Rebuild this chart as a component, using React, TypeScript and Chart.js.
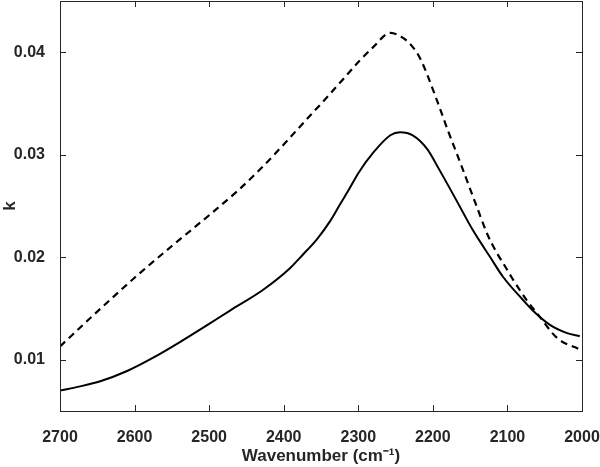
import { useEffect, useRef } from "react";
import { Chart, ChartConfiguration, Plugin } from "chart.js/auto";

// wavenumber (cm-1) and extinction coefficient k
const solidWavenumber = [2700, 2673, 2646, 2610, 2575, 2542, 2500, 2472, 2428, 2392, 2375, 2355, 2338, 2325, 2311, 2300, 2280, 2257, 2244, 2227, 2208, 2191, 2168, 2146, 2123, 2106, 2080, 2066, 2043, 2020, 2003];
const solidK = [0.0070, 0.0074, 0.0079, 0.0089, 0.0102, 0.0116, 0.0135, 0.0148, 0.0168, 0.0189, 0.0202, 0.0218, 0.0235, 0.0251, 0.0268, 0.0282, 0.0302, 0.0319, 0.0322, 0.0319, 0.0306, 0.0285, 0.0255, 0.0226, 0.0200, 0.0181, 0.0159, 0.0148, 0.0134, 0.0126, 0.0123];

const dashedWavenumber = [2700, 2650, 2600, 2550, 2500, 2463, 2430, 2400, 2370, 2342, 2320, 2298, 2280, 2257, 2240, 2228, 2217, 2197, 2180, 2161, 2143, 2126, 2114, 2103, 2094, 2074, 2060, 2033, 2003];
const dashedK = [0.0113, 0.0147, 0.0180, 0.0211, 0.0241, 0.0264, 0.0287, 0.0310, 0.0334, 0.0356, 0.0374, 0.0392, 0.0405, 0.0419, 0.0414, 0.0406, 0.0394, 0.0358, 0.0324, 0.0288, 0.0253, 0.0221, 0.0204, 0.0191, 0.0180, 0.0158, 0.0145, 0.0121, 0.0110];

const xTicks = [2700, 2600, 2500, 2400, 2300, 2200, 2100, 2000];
const yTicks = [0.01, 0.02, 0.03, 0.04];

const axisColor = "#262626";
const fontFamily = "'Liberation Sans', Arial, Helvetica, sans-serif";

// MATLAB-like box with inward ticks on all four sides
const boxAxes: Plugin = {
  id: "boxAxes",
  afterDatasetsDraw(chart) {
    const { ctx, chartArea: a, scales } = chart;
    const len = 6;
    ctx.save();
    ctx.strokeStyle = axisColor;
    ctx.lineWidth = 1;
    ctx.beginPath();
    for (const v of xTicks) {
      const px = Math.round(scales.x.getPixelForValue(v)) + 0.5;
      ctx.moveTo(px, a.bottom);
      ctx.lineTo(px, a.bottom - len);
      ctx.moveTo(px, a.top);
      ctx.lineTo(px, a.top + len);
    }
    for (const v of yTicks) {
      const py = Math.round(scales.y.getPixelForValue(v)) + 0.5;
      ctx.moveTo(a.left, py);
      ctx.lineTo(a.left + len, py);
      ctx.moveTo(a.right, py);
      ctx.lineTo(a.right - len, py);
    }
    ctx.stroke();
    ctx.strokeRect(a.left + 0.5, a.top + 0.5, a.right - a.left, a.bottom - a.top);
    ctx.restore();
  },
};

export default function App() {
  const canvasRef = useRef<HTMLCanvasElement>(null);
  const chartRef = useRef<Chart | null>(null);

  useEffect(() => {
    document.body.style.margin = "0";
    if (!canvasRef.current) return;
    if (chartRef.current) chartRef.current.destroy();

    const tickFont = { family: fontFamily, size: 16, weight: "bold" as const };
    const titleFont = { family: fontFamily, size: 17, weight: "bold" as const };

    const config: ChartConfiguration<"line"> = {
      type: "line",
      data: {
        datasets: [
          {
            label: "solid",
            data: solidWavenumber.map((x, i) => ({ x, y: solidK[i] })),
            borderColor: "#000",
            borderWidth: 2,
            pointRadius: 0,
            cubicInterpolationMode: "monotone",
          },
          {
            label: "dashed",
            data: dashedWavenumber.map((x, i) => ({ x, y: dashedK[i] })),
            borderColor: "#000",
            borderWidth: 2.2,
            borderDash: [7, 5],
            pointRadius: 0,
            cubicInterpolationMode: "monotone",
          },
        ],
      },
      options: {
        responsive: true,
        maintainAspectRatio: false,
        animation: false,
        layout: { padding: { top: 1, right: 18, left: 0, bottom: 0 } },
        plugins: { legend: { display: false }, tooltip: { enabled: false } },
        scales: {
          x: {
            type: "linear",
            min: 2000,
            max: 2700,
            reverse: true,
            grid: { display: false },
            border: { display: false },
            afterBuildTicks: (s) => { s.ticks = xTicks.map(value => ({ value })); },
            afterFit: (s) => { s.height = 56; s.paddingLeft = 0; s.paddingRight = 0; },
            ticks: { font: tickFont, color: axisColor, padding: 9, maxRotation: 0, callback: (v) => String(v) },
            title: { display: true, text: "Wavenumber (cm⁻¹)", font: titleFont, color: axisColor, padding: 0 },
          },
          y: {
            type: "linear",
            min: 0.005,
            max: 0.045,
            grid: { display: false },
            border: { display: false },
            afterBuildTicks: (s) => { s.ticks = yTicks.map(value => ({ value })); },
            afterFit: (s) => { s.width = 60; s.paddingTop = 0; s.paddingBottom = 0; },
            ticks: { font: tickFont, color: axisColor, padding: 7, callback: (v) => Number(v).toFixed(2) },
            title: { display: true, text: "k", font: titleFont, color: axisColor, padding: { top: 0, bottom: 0, y: 0 } },
          },
        },
      },
      plugins: [boxAxes],
    };

    chartRef.current = new Chart(canvasRef.current, config);

    return () => {
      if (chartRef.current) chartRef.current.destroy();
    };
  }, []);

  return (
    <div style={{ width: 600, height: 467, position: "relative" }}>
      <canvas ref={canvasRef} />
    </div>
  );
}
